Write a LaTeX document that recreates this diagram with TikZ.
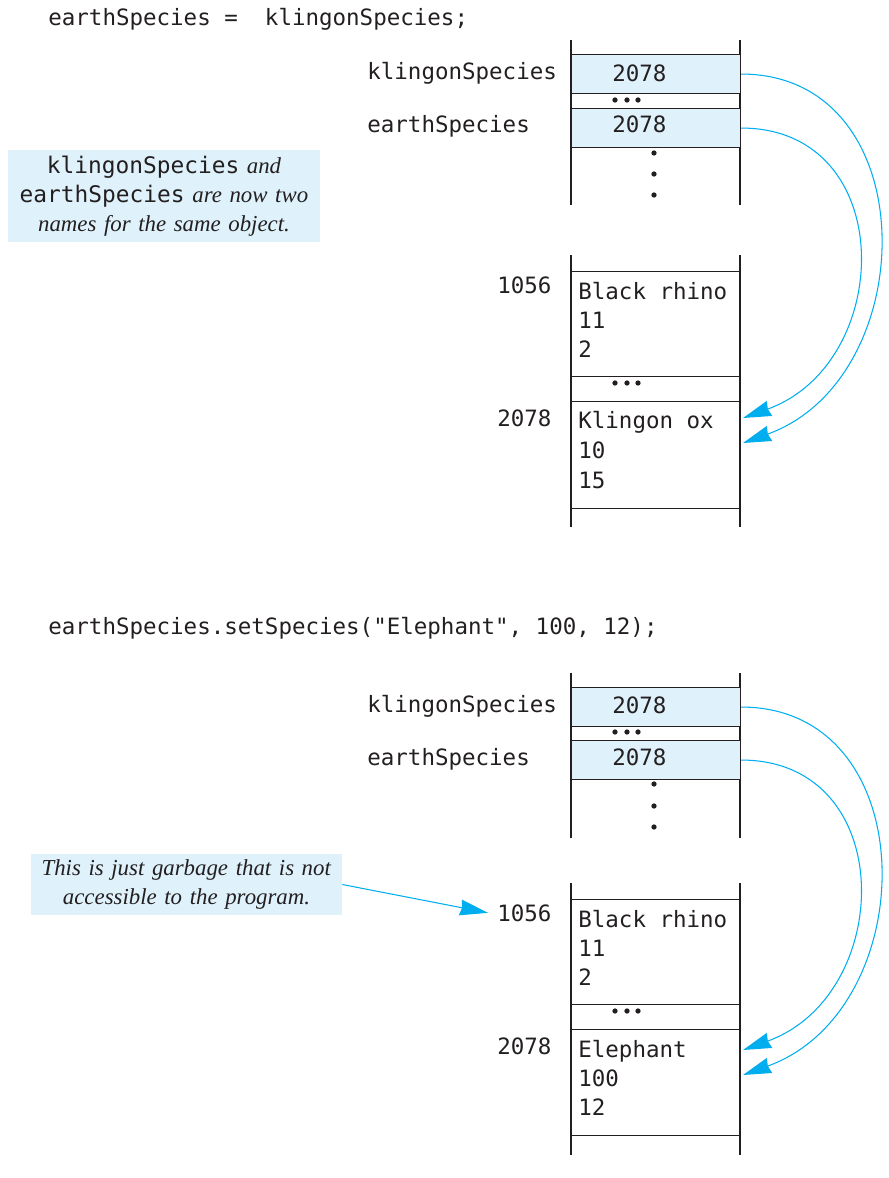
\documentclass[tikz,border=0pt]{standalone}
\usepackage{fontspec}
\setmainfont{Liberation Serif}
\setmonofont{DejaVu Sans Mono}
\usetikzlibrary{arrows.meta,calc}

\definecolor{refblue}{RGB}{0,174,239}
\definecolor{notefill}{RGB}{223,242,251}
\definecolor{ink}{RGB}{35,31,32}

\tikzset{
  every node/.style={inner sep=0pt, text=ink, font=\fontsize{12.8}{16.4}\selectfont},
  code/.style={anchor=base west, font=\fontsize{12.8}{16.4}\selectfont\ttfamily},
  wall/.style={draw=ink, line width=0.6pt},
  cell/.style={wall, fill=notefill, anchor=north west, minimum width=3.38cm, minimum height=0.78cm},
  objbox/.style={wall, anchor=north west, minimum width=3.38cm},
  note/.style={fill=notefill, align=center, font=\fontsize{13}{16.4}\selectfont},
  ref/.style={draw=refblue, line width=0.6pt, -{Stealth[length=16pt,width=9pt,inset=1pt]}}
}

\begin{document}
\begin{tikzpicture}[x=0.02cm,y=-0.02cm]
  \useasboundingbox (0,0) rectangle (889,1178);

  % ---- first statement ----
  \node[code] (stmtA) at (48,25) {earthSpecies =\ \ klingonSpecies;};

  \draw[wall] (571,40) -- (571,205);
  \draw[wall] (740,40) -- (740,205);
  \node[cell] (krefA) at (571,54) {};
  \node[cell] (erefA) at (571,108) {};
  \node[code] (kvalA) at (612,81) {2078};
  \node[code] (evalA) at (612,132) {2078};
  \node[code] (knameA) at (367,79) {klingonSpecies};
  \node[code] (enameA) at (367,132) {earthSpecies};
  \foreach \x in {615,627,638} \fill[ink] (\x,100) circle (1.5pt);
  \foreach \y in {153,174,195} \fill[ink] (654,\y) circle (1.5pt);

  \node[note, minimum width=6.24cm, minimum height=1.84cm, text width=6.24cm] (aliasnote) at (164,196)
    {\texttt{klingonSpecies} \textit{and}\\ \texttt{earthSpecies} \textit{are now two}\\ \textit{names for the same object.}};

  \draw[wall] (571,255) -- (571,527);
  \draw[wall] (740,255) -- (740,527);
  \node[objbox, minimum height=2.1cm] (rhinoA) at (571,271) {};
  \node[objbox, minimum height=2.14cm] (oxA) at (571,401) {};
  \foreach \x in {615,627,638} \fill[ink] (\x,383) circle (1.5pt);
  \node[code] (addrRhinoA) at (497,293) {1056};
  \node[code] (addrOxA) at (497,426) {2078};
  \node[code] (rhinoNameA) at (578,299) {Black rhino};
  \node[code] (rhinoPopA) at (578,328) {11};
  \node[code] (rhinoGrowA) at (578,357) {2};
  \node[code] (oxNameA) at (578,428) {Klingon ox};
  \node[code] (oxPopA) at (578,458) {10};
  \node[code] (oxGrowA) at (578,488) {15};

  \coordinate (oxhiA) at ($(oxA.north east)+(2,17)$);
  \coordinate (oxloA) at ($(oxA.north east)+(2,42)$);
  \draw[ref] (krefA.east) .. controls +(185,0) and +(180,-65) .. (oxloA);
  \draw[ref] (erefA.east) .. controls +(158,0) and +(152,-55) .. (oxhiA);

  % ---- second statement ----
  \node[code] (stmtB) at (48,634) {earthSpecies.setSpecies("Elephant", 100, 12);};

  \draw[wall] (571,673) -- (571,838);
  \draw[wall] (740,673) -- (740,838);
  \node[cell] (krefB) at (571,687) {};
  \node[cell] (erefB) at (571,740) {};
  \node[code] (kvalB) at (612,713) {2078};
  \node[code] (evalB) at (612,765) {2078};
  \node[code] (knameB) at (367,712) {klingonSpecies};
  \node[code] (enameB) at (367,765) {earthSpecies};
  \foreach \x in {615,627,638} \fill[ink] (\x,732) circle (1.5pt);
  \foreach \y in {784,806,827} \fill[ink] (654,\y) circle (1.5pt);

  \draw[wall] (571,883) -- (571,1155);
  \draw[wall] (740,883) -- (740,1155);
  \node[objbox, minimum height=2.1cm] (rhinoB) at (571,899) {};
  \node[objbox, minimum height=2.12cm] (oxB) at (571,1029) {};
  \foreach \x in {615,627,638} \fill[ink] (\x,1011) circle (1.5pt);
  \node[code] (addrRhinoB) at (497,921) {1056};
  \node[code] (addrOxB) at (497,1054) {2078};
  \node[code] (rhinoNameB) at (578,927) {Black rhino};
  \node[code] (rhinoPopB) at (578,956) {11};
  \node[code] (rhinoGrowB) at (578,985) {2};
  \node[code] (oxNameB) at (578,1057) {Elephant};
  \node[code] (oxPopB) at (578,1086) {100};
  \node[code] (oxGrowB) at (578,1115) {12};

  \coordinate (oxhiB) at ($(oxB.north east)+(2,21)$);
  \coordinate (oxloB) at ($(oxB.north east)+(2,46)$);
  \draw[ref] (krefB.east) .. controls +(185,0) and +(180,-65) .. (oxloB);
  \draw[ref] (erefB.east) .. controls +(158,0) and +(152,-55) .. (oxhiB);

  \node[note, minimum width=6.22cm, minimum height=1.22cm, text width=6.22cm] (garbagenote) at (186.5,884.5)
    {\textit{This is just garbage that is not}\\ \textit{accessible to the program.}};
  \draw[ref] (garbagenote.east) -- ($(addrRhinoB.west)+(-9,0)$);
\end{tikzpicture}
\end{document}
